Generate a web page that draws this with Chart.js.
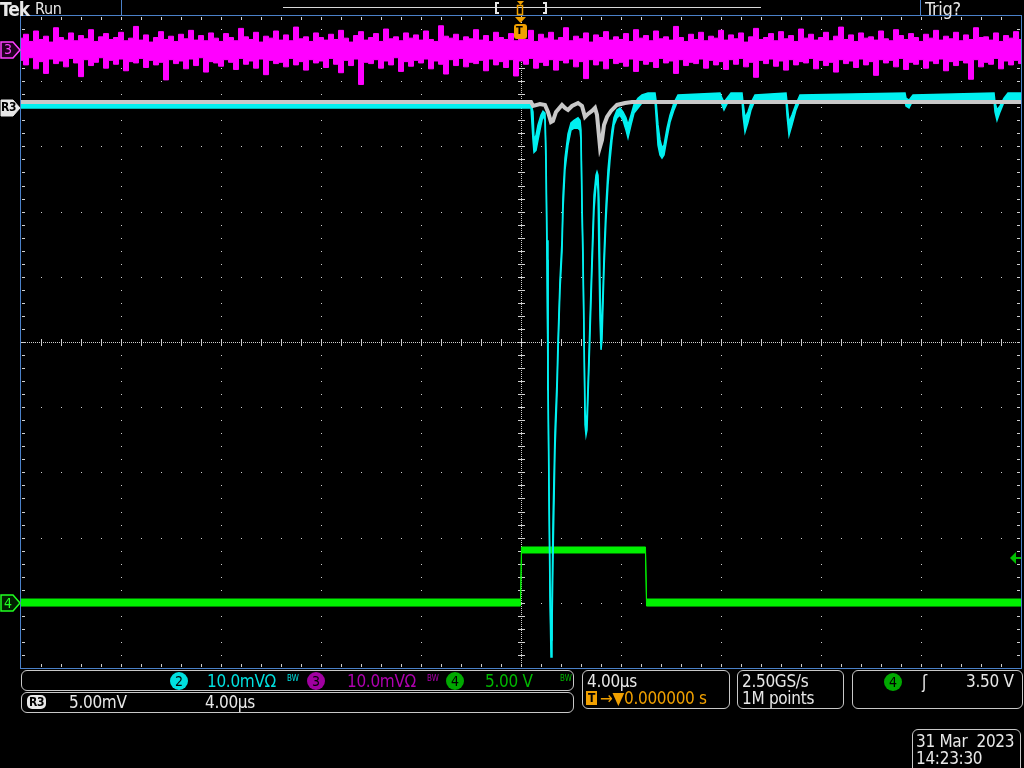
<!DOCTYPE html>
<html>
<head>
<meta charset="utf-8">
<script src="https://cdn.jsdelivr.net/npm/chart.js@4.4.0/dist/chart.umd.min.js"></script>
<style>
html, body { margin: 0; padding: 0; background: #000; }
#scope { position: relative; width: 1024px; height: 768px; overflow: hidden; background: #000;
  font-family: "DejaVu Sans Condensed", "DejaVu Sans", sans-serif; color: #e8e8e8; }
#scope canvas { position: absolute; left: 0; top: 0; }
.t { position: absolute; white-space: nowrap; line-height: 1; font-size: 17px; letter-spacing: -0.3px; }
.box { position: absolute; border: 1px solid #c8c8c8; border-radius: 6px; box-sizing: border-box; }
.dot { position: absolute; width: 18px; height: 18px; border-radius: 50%; text-align: center;
  line-height: 18px; font-size: 14px; color: #000; }
.bw { position: absolute; font-size: 8px; line-height: 1; }
</style>
</head>
<body>
<div id="scope">
  <canvas id="c" width="1024" height="768"></canvas>

  <!-- header -->
  <div class="t" style="left:0;top:0;font-size:19px;font-weight:bold;letter-spacing:-1px">Tek</div>
  <div class="t" style="left:35px;top:1px;font-size:16px">Run</div>
  <div class="t" style="left:925px;top:0;font-size:18px">Trig?</div>

  <!-- left trace labels -->
  <div class="t" style="left:4px;top:42px;font-size:14px;color:#ff40ff">3</div>
  <div class="t" style="left:1px;top:101px;font-size:12px;color:#000;font-weight:bold">R3</div>
  <div class="t" style="left:4px;top:596px;font-size:14px;color:#20ff20">4</div>
  <div class="t" style="left:516px;top:25px;font-size:11px;color:#000;font-weight:bold">T</div>

  <!-- bottom readouts -->
  <div class="box" style="left:21px;top:670px;width:553px;height:21px"></div>
  <div class="box" style="left:21px;top:692px;width:553px;height:21px"></div>
  <div class="box" style="left:582px;top:670px;width:148px;height:39px"></div>
  <div class="box" style="left:737px;top:670px;width:107px;height:39px"></div>
  <div class="box" style="left:852px;top:670px;width:171px;height:39px"></div>
  <div class="box" style="left:912px;top:729px;width:109px;height:45px"></div>

  <div class="dot" style="left:170px;top:672px;background:#00e0e0">2</div>
  <div class="t" style="left:207px;top:673px;color:#00e0e0">10.0mVΩ</div>
  <div class="bw" style="left:287px;top:675px;color:#00e0e0">BW</div>
  <div class="dot" style="left:307px;top:672px;background:#a000a0">3</div>
  <div class="t" style="left:347px;top:673px;color:#b000b0">10.0mVΩ</div>
  <div class="bw" style="left:427px;top:675px;color:#b000b0">BW</div>
  <div class="dot" style="left:446px;top:672px;background:#00a800">4</div>
  <div class="t" style="left:485px;top:673px;color:#00b800">5.00 V</div>
  <div class="bw" style="left:560px;top:675px;color:#00b800">BW</div>

  <div class="t" style="left:27px;top:695px;font-size:12px;color:#000;background:#e8e8e8;border-radius:5px;padding:1px 2px;font-weight:bold">R3</div>
  <div class="t" style="left:69px;top:694px">5.00mV</div>
  <div class="t" style="left:205px;top:694px">4.00µs</div>

  <div class="t" style="left:587px;top:673px">4.00µs</div>
  <div class="t" style="left:586px;top:691px;font-size:12px;color:#000;background:#f0a000;padding:1px 2px;font-weight:bold">T</div>
  <div class="t" style="left:600px;top:690px;color:#f0a000">→▼0.000000 s</div>

  <div class="t" style="left:742px;top:673px">2.50GS/s</div>
  <div class="t" style="left:742px;top:690px">1M points</div>

  <div class="dot" style="left:884px;top:673px;background:#00a800">4</div>
  <div class="t" style="left:922px;top:674px">ʃ</div>
  <div class="t" style="left:966px;top:673px">3.50 V</div>

  <div class="t" style="left:916px;top:733px">31 Mar&nbsp;&nbsp;2023</div>
  <div class="t" style="left:916px;top:750px">14:23:30</div>
</div>

<script>
// channel settings: units per division, ground position in divisions from centre
const CH2 = { scale: 10, pos: 3.6 };    // mV/div
const CH3 = { scale: 10, pos: 4.48 };   // mV/div
const REF3 = { scale: 5, pos: 3.6 };    // mV/div
const CH4 = { scale: 5, pos: -4.0 };    // V/div

// time base: 4 us/div, 10 divisions, trigger at centre
const T_MIN = -20, T_MAX = 20;

// CH3 noise envelope (mV), one pair every 0.2 us
const magentaHi = [
  1.8,2.4,1.3,2.9,1.6,2.1,1.2,3.4,1.9,1.5,2.6,1.4,2.2,1.7,3.1,1.3,2.0,2.5,1.6,1.9,
  2.7,1.4,1.8,3.6,1.5,2.3,1.2,1.9,2.8,1.6,2.1,1.3,2.4,1.7,3.0,1.5,2.2,1.4,2.6,1.8,
  1.3,2.5,1.9,1.4,3.3,2.0,1.6,2.7,1.2,2.1,1.8,2.9,1.5,2.3,1.4,3.5,1.7,2.0,1.3,2.6,
  1.9,1.5,2.4,1.6,3.0,1.8,1.2,2.2,2.8,1.5,1.9,2.5,1.3,3.2,1.7,2.0,1.4,2.6,1.8,2.3,
  1.5,2.9,1.6,1.3,3.7,2.1,1.8,2.4,1.4,2.0,1.7,3.1,1.5,2.2,1.3,2.7,1.9,1.6,2.5,1.4,
  2.2,1.6,3.0,1.3,2.4,1.8,2.7,1.5,1.9,3.4,1.4,2.1,1.7,2.6,1.2,2.3,1.9,2.8,1.5,2.0,
  1.6,2.5,1.3,3.1,1.8,2.2,1.4,2.9,1.7,2.0,1.5,3.6,1.9,1.3,2.4,1.6,2.7,1.4,2.1,1.8,
  3.0,1.5,2.3,1.7,2.6,1.2,2.0,3.3,1.6,1.9,2.5,1.4,2.8,1.7,2.2,1.3,3.2,1.8,2.4,1.5,
  1.9,2.7,1.4,2.1,3.5,1.6,2.3,1.3,2.6,1.8,2.0,1.5,2.9,1.7,1.4,3.1,2.2,1.6,2.5,1.9,
  1.3,2.4,1.8,3.0,1.5,2.1,1.7,2.7,1.4,2.3,1.6,3.4,1.9,2.0,1.5,2.6,1.3,2.2,1.8,2.8,
  1.6
];
const magentaLo = [
  -1.6,-2.3,-1.2,-2.9,-1.8,-3.6,-1.4,-2.1,-1.7,-2.6,-1.3,-2.0,-4.1,-1.5,-2.4,-1.9,-1.2,-2.8,-1.6,-2.2,
  -1.4,-3.2,-1.8,-2.0,-1.3,-2.7,-1.6,-2.3,-1.9,-4.6,-1.5,-2.1,-1.7,-2.9,-1.4,-2.4,-1.2,-3.4,-1.8,-2.0,
  -2.5,-1.5,-1.9,-3.0,-1.3,-2.2,-1.7,-2.8,-1.4,-3.8,-1.6,-2.1,-1.9,-2.6,-1.3,-2.3,-1.8,-3.1,-1.5,-2.0,
  -1.7,-2.7,-1.3,-2.2,-3.5,-1.6,-2.4,-1.4,-5.3,-1.9,-2.1,-1.5,-2.8,-1.7,-2.3,-1.2,-3.3,-1.8,-2.5,-1.6,
  -2.0,-1.4,-2.9,-1.7,-2.2,-3.7,-1.5,-2.4,-1.3,-2.6,-1.9,-2.1,-1.6,-3.2,-1.4,-2.3,-1.8,-2.7,-1.5,-4.0,
  -1.7,-2.2,-1.3,-2.8,-1.9,-2.4,-1.5,-3.1,-1.6,-2.0,-1.4,-2.6,-1.8,-4.4,-1.5,-2.3,-1.7,-2.9,-1.3,-2.1,
  -1.9,-2.5,-1.4,-3.3,-1.6,-2.2,-1.8,-2.7,-1.3,-2.0,-1.7,-3.6,-1.5,-2.4,-1.9,-2.1,-1.4,-2.8,-1.6,-2.3,
  -1.8,-3.0,-1.5,-2.2,-1.3,-2.6,-1.9,-4.2,-1.6,-2.1,-1.4,-2.5,-1.7,-3.1,-1.5,-2.3,-1.8,-2.0,-1.3,-2.9,
  -1.6,-2.4,-1.9,-3.4,-1.5,-2.1,-1.7,-2.7,-1.4,-2.3,-1.8,-3.9,-1.5,-2.0,-1.6,-2.6,-1.3,-3.0,-1.9,-2.2,
  -1.5,-2.8,-1.7,-2.1,-1.4,-3.2,-1.8,-2.4,-1.6,-2.0,-4.5,-1.5,-2.6,-1.9,-2.2,-1.3,-2.9,-1.7,-2.3,-1.6,
  -2.1
];
const magentaT = magentaHi.map((_, i) => T_MIN + i * 0.2);

// CH2 (cyan) envelope: time (us), upper and lower edge (mV)
const cyanT = [
  -20, -10, -0.4, 0, 0.4, 0.48, 0.52, 0.6, 0.68, 0.8, 0.88, 0.96, 1.0, 1.04, 1.08, 1.12,
  1.16, 1.2, 1.24, 1.28, 1.36, 1.44, 1.48, 1.56, 1.64, 1.68, 1.76, 1.88, 2.0, 2.12, 2.28, 2.36,
  2.4, 2.44, 2.48, 2.52, 2.56, 2.6, 2.64, 2.68, 2.76, 2.84, 2.92, 3.0, 3.04, 3.08, 3.12, 3.16,
  3.2, 3.24, 3.28, 3.32, 3.4, 3.48, 3.56, 3.64, 3.72, 3.84, 3.96, 4.08, 4.2, 4.28, 4.4, 4.52,
  4.68, 4.84, 5.08, 5.36, 5.4, 5.48, 5.56, 5.64, 5.72, 5.84, 5.96, 6.12, 6.28, 7.96, 8.04, 8.12,
  8.24, 8.4, 8.84, 8.88, 8.96, 9.08, 9.2, 9.36, 10.6, 10.64, 10.72, 10.84, 11.0, 11.16, 15.36, 15.4,
  15.52, 15.68, 18.92, 18.96, 19.04, 19.16, 19.32, 19.48, 20
];
const cyanHi = [
  0.5, 0.5, 0.5, 0.5, 0.5, -0.7, -5.0, -4.3, -2.7, -1.2, -0.6, -0.9, -6.6, -20.4, -40.3, -57.2,
  -72.5, -81.7, -75.6, -63.3, -49.5, -41.8, -35.7, -26.4, -20.4, -13.5, -7.8, -4.1, -2.4, -2.0, -1.6, -2.0,
  -3.5, -14.2, -21.9, -34.2, -46.4, -48.7, -47.2, -42.6, -32.6, -22.7, -13.5, -10.4, -9.9, -10.4, -14.2, -26.4,
  -34.9, -32.6, -28.0, -22.7, -15.0, -9.6, -6.2, -3.5, -1.6, -0.4, -0.1, -0.7, -1.6, -2.7, -1.2, 0.4,
  1.4, 1.9, 2.2, 2.2, 1.1, -2.7, -5.0, -6.2, -5.8, -3.2, -1.2, 0.7, 1.9, 2.2, 1.4, 0.8,
  1.4, 2.2, 2.2, 0.8, -1.6, -0.7, 0.7, 1.9, 2.2, 0.8, -2.3, -1.2, 0.5, 1.9, 2.2, 1.4,
  1.1, 1.9, 2.2, 0.8, -0.4, 0.2, 1.4, 2.2, 2.2
];
const cyanLo = [
  -0.1, -0.1, -0.1, -0.1, -0.1, -5.0, -6.9, -6.6, -5.0, -2.7, -1.3, -2.0, -9.6, -23.4, -43.4, -60.2,
  -75.6, -84.3, -80.2, -69.4, -52.6, -44.1, -38.0, -28.0, -22.2, -15.8, -9.6, -5.8, -3.5, -3.2, -3.2, -3.5,
  -5.0, -16.5, -24.2, -35.7, -48.7, -50.3, -49.5, -44.6, -34.9, -25.0, -15.8, -11.9, -10.8, -12.7, -23.4, -32.6,
  -37.2, -35.7, -30.3, -25.0, -17.3, -11.9, -8.1, -5.0, -2.7, -1.6, -1.2, -2.0, -3.5, -4.7, -2.7, -0.9,
  -0.1, 0.7, 1.1, 1.1, -1.2, -5.8, -7.3, -7.8, -7.3, -4.7, -2.3, -0.4, 1.1, 1.1, 0.4, -0.4,
  0.5, 1.1, 1.1, -1.2, -3.8, -2.3, -0.4, 1.1, 1.1, -1.2, -4.3, -2.7, -0.4, 1.1, 1.1, 0.2,
  -0.1, 1.1, 1.1, -0.7, -2.0, -0.7, 0.8, 1.1, 1.1
];

// Ref 3 (grey), time (us) and mV
const greyT = [
  -20, 0.4, 0.48, 0.76, 0.96, 1.08, 1.2, 1.28, 1.4, 1.64, 1.76, 1.88, 2.04, 2.28, 2.44, 2.56,
  2.68, 2.84, 2.96, 3.04, 3.16, 3.24, 3.32, 3.44, 3.6, 3.84, 4.16, 4.44, 20
];
const greyMv = [
  0.41, 0.41, 0.1, 0.25, 0.18, -0.36, -1.13, -1.05, -0.36, 0.18, -0.05, -0.21, 0.1, 0.33, 0.1, -0.74,
  -0.51, -0.28, -0.05, -0.59, -3.04, -2.52, -1.36, -0.74, -0.28, 0.18, 0.33, 0.41, 0.41
];

// CH4 (green) logic signal envelope, V
const greenT = [-20, -0.02, 0.02, 4.98, 5.02, 20];
const greenHi = [0.29, 0.29, 4.28, 4.28, 0.29, 0.29];
const greenLo = [-0.25, -0.25, 3.82, 3.82, -0.25, -0.25];

const toDiv = (ch, v) => ch.pos + v / ch.scale;

function line(t, vals, ch, color, width, fill, stepped) {
  return {
    data: t.map((x, i) => ({ x, y: toDiv(ch, vals[i]) })),
    borderColor: color,
    backgroundColor: color,
    borderWidth: width,
    stepped: stepped || false,
    fill: fill ? '-1' : false
  };
}

// first dataset is painted last (on top)
const datasets = [
  line(greyT, greyMv, REF3, '#c8c8c8', 4, false),
  line(cyanT, cyanLo, CH2, '#00f0f0', 1.5, false),
  line(cyanT, cyanHi, CH2, '#00f0f0', 1.5, true),
  line(greenT, greenLo, CH4, '#00f000', 1, false),
  line(greenT, greenHi, CH4, '#00f000', 1, true),
  line(magentaT, magentaLo, CH3, '#ff00ff', 1, false, 'middle'),
  line(magentaT, magentaHi, CH3, '#ff00ff', 1, true, 'middle')
];

const BLUE = '#4a80c8';

const gridPlugin = {
  id: 'scopeGrid',
  beforeDatasetsDraw(chart) {
    const { ctx, chartArea: a } = chart;
    const dx = (a.right - a.left) / 10, dy = (a.bottom - a.top) / 10;
    const cx = Math.round(a.left + 5 * dx), cy = Math.round(a.top + 5 * dy);
    ctx.save();
    ctx.fillStyle = '#d0d0d0';
    for (let i = 1; i < 10; i++) {
      const x = Math.round(a.left + i * dx), y = Math.round(a.top + i * dy);
      for (let k = 1; k < 50; k++) {
        ctx.fillRect(x, Math.round(a.top + k * dy / 5), 1, 1);
        ctx.fillRect(Math.round(a.left + k * dx / 5), y, 1, 1);
      }
    }
    // centre cross, dense dots plus minor ticks
    for (let x = a.left; x < a.right; x += 2) ctx.fillRect(x, cy, 1, 1);
    for (let y = a.top; y < a.bottom; y += 2) ctx.fillRect(cx, y, 1, 1);
    for (let k = 1; k < 50; k++) {
      const x = Math.round(a.left + k * dx / 5), y = Math.round(a.top + k * dy / 5);
      ctx.fillRect(x, cy - 3, 1, 7);
      ctx.fillRect(cx - 3, y, 7, 1);
      // frame ticks
      ctx.fillRect(x, a.bottom - 4, 1, 3);
      ctx.fillRect(x, a.top + 1, 1, 3);
      ctx.fillRect(a.left + 1, y, 3, 1);
      ctx.fillRect(a.right - 4, y, 3, 1);
    }
    ctx.restore();
  },
  afterDraw(chart) {
    const { ctx, chartArea: a } = chart;
    ctx.save();
    // frame
    ctx.strokeStyle = BLUE;
    ctx.lineWidth = 1;
    ctx.strokeRect(a.left - 0.5, a.top - 0.5, a.right - a.left + 1, a.bottom - a.top + 1);
    // header strip
    ctx.strokeRect(121.5, -0.5, 799, 16);
    ctx.fillStyle = '#d8d8d8';
    ctx.fillRect(283, 7, 478, 1);
    ctx.strokeStyle = '#e8e8e8';
    ctx.lineWidth = 2;
    ctx.beginPath();
    ctx.moveTo(499, 3); ctx.lineTo(496, 3); ctx.lineTo(496, 13); ctx.lineTo(499, 13);
    ctx.moveTo(543, 3); ctx.lineTo(546, 3); ctx.lineTo(546, 13); ctx.lineTo(543, 13);
    ctx.stroke();
    // trigger position markers
    ctx.strokeStyle = '#f0a000';
    ctx.fillStyle = '#f0a000';
    ctx.lineWidth = 1.5;
    ctx.strokeRect(517.5, 5.5, 5, 9);
    ctx.beginPath();
    ctx.moveTo(517, 1); ctx.lineTo(524, 1); ctx.lineTo(520.5, 5); ctx.closePath(); ctx.fill();
    ctx.beginPath();
    ctx.moveTo(515, 17); ctx.lineTo(526, 17); ctx.lineTo(520.5, 23); ctx.closePath(); ctx.fill();
    roundRect(ctx, 514, 24, 13, 15, 3); ctx.fill();
    // left channel badges
    badge(ctx, 50, '#ff40ff', '#200020', 1.5);
    badge(ctx, 108, '#e8e8e8', '#e8e8e8', 1);
    badge(ctx, 603, '#20ff20', '#002000', 1.5);
    // trigger level arrow on right
    ctx.fillStyle = '#00c000';
    ctx.beginPath();
    ctx.moveTo(1010, 558); ctx.lineTo(1016, 552); ctx.lineTo(1016, 564); ctx.closePath(); ctx.fill();
    ctx.fillRect(1015, 557, 6, 2);
    ctx.restore();
  }
};

function roundRect(ctx, x, y, w, h, r) {
  ctx.beginPath();
  ctx.moveTo(x + r, y); ctx.lineTo(x + w - r, y); ctx.quadraticCurveTo(x + w, y, x + w, y + r);
  ctx.lineTo(x + w, y + h - r); ctx.quadraticCurveTo(x + w, y + h, x + w - r, y + h);
  ctx.lineTo(x + r, y + h); ctx.quadraticCurveTo(x, y + h, x, y + h - r);
  ctx.lineTo(x, y + r); ctx.quadraticCurveTo(x, y, x + r, y);
  ctx.closePath();
}

function badge(ctx, y, stroke, fill, w) {
  ctx.beginPath();
  ctx.moveTo(1, y - 8); ctx.lineTo(13, y - 8); ctx.lineTo(20, y); ctx.lineTo(13, y + 8); ctx.lineTo(1, y + 8);
  ctx.closePath();
  ctx.fillStyle = fill; ctx.fill();
  ctx.strokeStyle = stroke; ctx.lineWidth = w; ctx.stroke();
}

new Chart(document.getElementById('c'), {
  type: 'line',
  data: { datasets },
  options: {
    responsive: false,
    animation: false,
    devicePixelRatio: 1,
    events: [],
    layout: { padding: { left: 21, top: 16, right: 3, bottom: 100 } },
    elements: { point: { radius: 0 }, line: { tension: 0 } },
    scales: {
      x: { type: 'linear', min: T_MIN, max: T_MAX, display: false },
      y: { type: 'linear', min: -5, max: 5, display: false }
    },
    plugins: { legend: { display: false }, tooltip: { enabled: false } }
  },
  plugins: [gridPlugin]
});
</script>
</body>
</html>
